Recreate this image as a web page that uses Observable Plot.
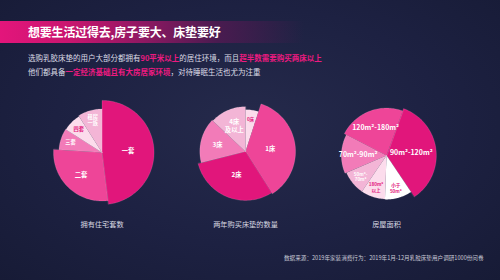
<!DOCTYPE html>
<html><head><meta charset="utf-8">
<script src="https://cdn.jsdelivr.net/npm/d3@7"></script>
<script src="https://cdn.jsdelivr.net/npm/@observablehq/plot@0.6"></script>
<style>
html,body{margin:0;padding:0;}
body{width:500px;height:280px;overflow:hidden;}
#page{position:relative;width:500px;height:280px;overflow:hidden;
  background:radial-gradient(ellipse at 50% 45%, #252a4b 0%, #1d2142 55%, #171b36 100%);
  font-family:"Noto Sans CJK SC","Noto Sans",sans-serif;}
#band{position:absolute;left:0;top:21px;width:320px;height:22px;
  background:linear-gradient(90deg,#e3157b 0%,#c8166f 22%,#8e1862 45%,#4a1b50 68%,rgba(30,32,66,0) 95%);}
#title{position:absolute;left:28px;top:21px;line-height:22px;font-size:12px;font-weight:700;color:#fff;white-space:nowrap;letter-spacing:-0.2px;}
.sub{position:absolute;left:28px;font-size:7.5px;line-height:10px;color:#dcdce6;letter-spacing:0;white-space:nowrap;}
.hl{color:#ec1a80;font-weight:700;}
#chart{position:absolute;left:0;top:90px;}
#source{position:absolute;left:284px;top:254px;font-size:5.6px;line-height:8px;color:#c9c9d6;white-space:nowrap;}
</style></head>
<body><div id="page">
<div id="band"></div>
<div id="title">想要生活过得去,房子要大、床垫要好</div>
<div class="sub" style="top:53px">选购乳胶床垫的用户大部分都拥有<span class="hl">90平米以上</span>的居住环境，而且<span class="hl">超半数需要购买两床以上</span></div>
<div class="sub" style="top:67px">他们都具备<span class="hl">一定经济基础且有大房居家环境</span>，对待睡眠生活也尤为注重</div>
<div id="chart"></div>
<div id="source">数据来源：2019年家装消费行为：2019年1月-12月乳胶床垫用户调研1000份问卷</div>
</div>
<script>
// ---- data ----
const houseLabels = ["一套","二套","三套","四套","租房\n一族"];
const houseValues = [48, 28, 8, 7, 9];
const bedLabels = ["0床","1床","2床","3床","4床\n及以上"];
const bedValues = [5, 36, 30, 16, 13];
const areaLabels = ["90m²-120m²","小于\n50m²","180m²\n以上","50m²-\n70m²","70m²-90m²","120m²-180m²"];
const areaValues = [35, 10, 9, 9, 14, 23];
const pieTitles = ["拥有住宅套数","两年购买床垫的数量","房屋面积"];

// ---- style / layout ----
const pieColors = [
  ["#e1167b","#ee4598","#f27bb8","#fcdcec","#f3b5d6"],
  ["#fcdcec","#ee4598","#e1167b","#f27bb8","#f3b5d6"],
  ["#e1167b","#ffffff","#fcdcec","#f3b5d6","#f27bb8","#ee4598"]
];
const pieCenters = [[101.5,152],[245,151],[386,155]];
const pieStartDeg = [0, 0, 20];
const captionY = 224;
const rScale = d3.scalePow().exponent(0.5).domain([0, 50]).range([37, 52.4]);

const pies = [
  {labels: houseLabels, values: houseValues},
  {labels: bedLabels, values: bedValues},
  {labels: areaLabels, values: areaValues}
];

const pts = [], lbls = [];
pies.forEach((p, pi) => {
  const s = pieStartDeg[pi] * Math.PI / 180;
  const arcs = d3.pie().sort(null).startAngle(s).endAngle(s + 2 * Math.PI)(p.values);
  const [cx, cy] = pieCenters[pi];
  arcs.forEach((a, i) => {
    const id = pi + "-" + i;
    const color = pieColors[pi][i];
    const r = rScale(p.values[i]);
    const span = (a.endAngle - a.startAngle) * 180 / Math.PI;
    pts.push({id, x: cx, y: cy, color});
    const n = Math.max(2, Math.ceil(span / 1.5));
    for (let k = 0; k <= n; k++) {
      const t = a.startAngle + (a.endAngle - a.startAngle) * k / n;
      pts.push({id, x: cx + r * Math.sin(t), y: cy - r * Math.cos(t), color});
    }
    const frac = span >= 105 ? 0.5 : span >= 45 ? 0.63 : 0.77;
    const m = (a.startAngle + a.endAngle) / 2;
    const light = color === "#fcdcec" || color === "#ffffff";
    lbls.push({
      x: cx + r * frac * Math.sin(m),
      y: cy - r * frac * Math.cos(m),
      text: p.labels[i],
      fill: light ? "#e2177b" : "#ffffff",
      size: pi === 2 ? (span < 45 ? 4.6 : 7) : (span < 25 ? 4.6 : span < 45 ? 5.2 : 6.3)
    });
  });
});

const chart = Plot.plot({
  width: 500, height: 145, margin: 0,
  x: {domain: [0, 500], range: [0, 500], axis: null},
  y: {domain: [90, 235], range: [0, 145], axis: null},
  color: {type: "identity"},
  style: {background: "transparent", fontFamily: "'Noto Sans CJK SC', sans-serif", overflow: "visible"},
  marks: [
    Plot.line(pts, {x: "x", y: "y", z: "id", fill: "color", stroke: "#ffffff", strokeOpacity: 0.25, strokeWidth: 0.5, curve: "linear-closed"}),
    Plot.text(lbls, {x: "x", y: "y", text: "text", fill: "fill", fontSize: "size", fontWeight: 700, lineHeight: 1.2}),
    Plot.text(pieTitles, {x: (d, i) => pieCenters[i][0], y: () => captionY, text: d => d, fill: "#d8d8e2", fontSize: 7.2})
  ]
});
document.getElementById("chart").appendChild(chart);
</script>
</body></html>
